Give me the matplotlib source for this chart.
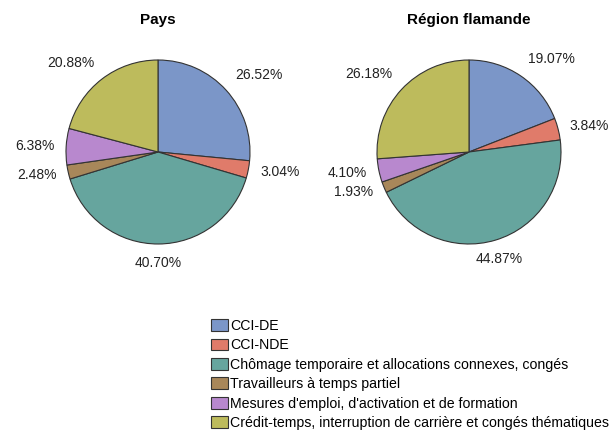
import matplotlib.pyplot as plt
import numpy as np

plt.rcParams['font.family'] = ['Liberation Sans', 'DejaVu Sans']

# Data
categories = [
    'CCI-DE',
    'CCI-NDE',
    'Chômage temporaire et allocations connexes, congés',
    'Travailleurs à temps partiel',
    "Mesures d'emploi, d'activation et de formation",
    'Crédit-temps, interruption de carrière et congés thématiques',
]
titles = ['Pays', 'Région flamande']
pays = [26.52, 3.04, 40.70, 2.48, 6.38, 20.88]
flandre = [19.07, 3.84, 44.87, 1.93, 4.10, 26.18]

colors = ['#7B96C8', '#E07B6A', '#66A59E', '#A8875A', '#B888CE', '#BDBB5C']

W, H = 611, 430
fig = plt.figure(figsize=(W / 100, H / 100), dpi=100)

R = 92
centers = [(158, 152), (469, 152)]
lim = 1.5


def draw_pie(cx, cy, values, title):
    ax = fig.add_axes([(cx - lim * R) / W, 1 - (cy + lim * R) / H,
                       2 * lim * R / W, 2 * lim * R / H])
    wedges, _ = ax.pie(values, colors=colors, startangle=90, counterclock=False,
                       radius=1, wedgeprops=dict(edgecolor='#333333', linewidth=0.8))
    for w, v in zip(wedges, values):
        ang = np.deg2rad((w.theta1 + w.theta2) / 2)
        c, s = np.cos(ang), np.sin(ang)
        ha = 'center' if abs(c) < 0.3 else ('left' if c > 0 else 'right')
        va = 'center' if abs(s) < 0.45 else ('bottom' if s > 0 else 'top')
        ax.text(1.13 * c, 1.13 * s, f'{v:.2f}%', ha=ha, va=va,
                fontsize=10, color='#222222')
    ax.text(0, 1.43, title, ha='center', va='center', fontsize=11,
            fontweight='bold')
    ax.set_xlim(-lim, lim)
    ax.set_ylim(-lim, lim)
    ax.set_aspect('equal')
    ax.axis('off')
    return wedges


wedges = draw_pie(*centers[0], pays, titles[0])
draw_pie(*centers[1], flandre, titles[1])

fig.legend(wedges, categories, loc='upper left',
           bbox_to_anchor=(211 / W, 1 - 319 / H), frameon=False,
           fontsize=10.2, borderpad=0, borderaxespad=0, handlelength=1.2,
           handleheight=0.9, handletextpad=0.15, labelspacing=0.38)

plt.savefig('out.png', dpi=100, facecolor='white')
plt.close(fig)
